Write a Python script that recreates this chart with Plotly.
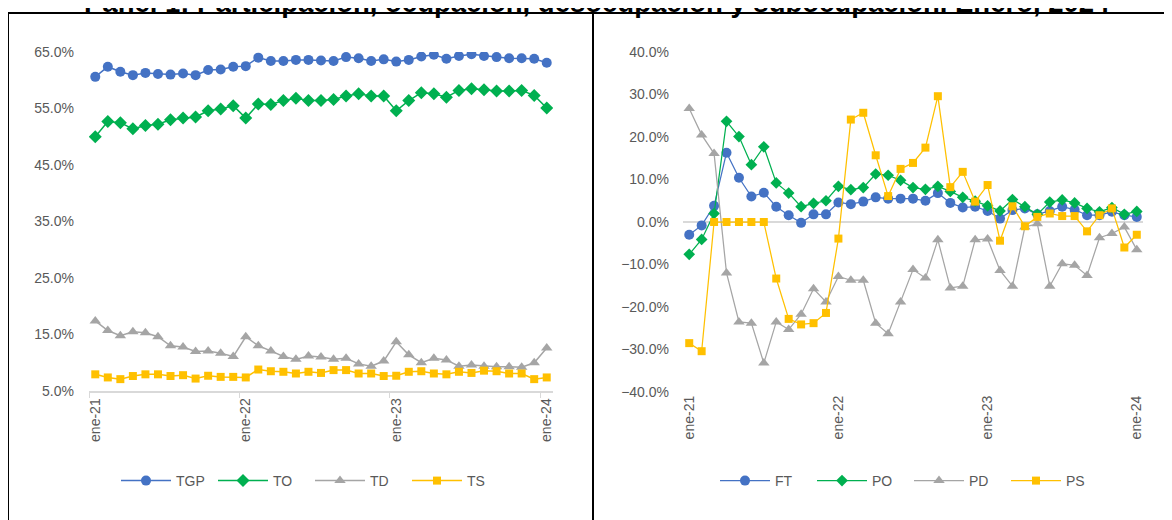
import plotly.graph_objects as go

meses = ["ene", "feb", "mar", "abr", "may", "jun", "jul", "ago", "sep", "oct", "nov", "dic"]
periodos = [f"{m}-{a}" for a in ["21", "22", "23"] for m in meses] + ["ene-24"]

# Panel izquierdo (%)
TGP = [60.6, 62.4, 61.5, 60.9, 61.3, 61.1, 61.0, 61.2, 60.9, 61.8, 61.9, 62.4, 62.5,
       64.0, 63.4, 63.4, 63.6, 63.6, 63.5, 63.4, 64.1, 63.9, 63.4, 63.7, 63.3, 63.6,
       64.2, 64.5, 63.8, 64.3, 64.6, 64.3, 64.1, 63.9, 63.9, 63.8, 63.1]
TO = [50.0, 52.7, 52.5, 51.4, 52.0, 52.2, 53.0, 53.3, 53.5, 54.6, 54.9, 55.5, 53.3,
      55.8, 55.7, 56.4, 56.8, 56.4, 56.4, 56.6, 57.2, 57.6, 57.2, 57.2, 54.6, 56.4,
      57.8, 57.6, 57.0, 58.2, 58.5, 58.3, 58.1, 58.1, 58.2, 57.3, 55.1]
TD = [17.4, 15.7, 14.8, 15.5, 15.3, 14.6, 13.0, 12.8, 12.0, 12.1, 11.7, 11.1, 14.6,
      13.0, 12.1, 11.1, 10.6, 11.2, 11.0, 10.6, 10.8, 9.8, 9.4, 10.3, 13.7, 11.4,
      10.0, 10.8, 10.5, 9.4, 9.6, 9.4, 9.3, 9.3, 9.2, 10.0, 12.6]
TS = [7.95, 7.4, 7.1, 7.65, 7.95, 7.95, 7.65, 7.8, 7.2, 7.7, 7.5, 7.5, 7.4,
      8.8, 8.5, 8.4, 8.1, 8.4, 8.2, 8.7, 8.7, 8.1, 8.1, 7.65, 7.7, 8.4,
      8.5, 8.1, 7.95, 8.4, 8.2, 8.6, 8.5, 8.1, 8.1, 7.1, 7.4]

# Panel derecho (%)
FT = [-3.0, -0.8, 3.8, 16.3, 10.4, 6.0, 6.9, 3.6, 1.6, -0.2, 1.8, 1.8, 4.6,
      4.2, 4.8, 5.8, 5.5, 5.5, 5.5, 5.0, 6.8, 4.5, 3.4, 3.6, 2.6, 0.8,
      2.8, 3.2, 1.8, 2.6, 3.6, 2.9, 1.6, 1.6, 2.4, 1.6, 1.2]
PO = [-7.6, -4.1, 2.0, 23.7, 20.1, 13.5, 17.7, 9.2, 6.8, 3.6, 4.4, 5.0, 8.4,
      7.6, 8.1, 11.3, 11.0, 9.8, 8.1, 7.7, 8.4, 7.2, 5.8, 4.9, 3.8, 2.6,
      5.3, 3.6, 1.8, 4.7, 5.2, 4.5, 3.2, 2.4, 3.4, 1.8, 2.5]
PD = [26.7, 20.5, 16.1, -12.0, -23.5, -23.8, -33.2, -23.5, -25.3, -21.7, -15.7, -18.8, -12.8,
      -13.7, -13.7, -23.8, -26.3, -18.8, -11.2, -13.2, -4.2, -15.5, -15.1, -4.2, -4.0, -11.4,
      -15.1, -1.2, -0.4, -15.1, -9.8, -10.2, -12.6, -3.7, -2.7, -1.2, -6.5]
PS = [-28.5, -30.4, 0.0, 0.0, 0.0, 0.0, 0.0, -13.3, -22.8, -24.1, -23.8, -21.4, -3.9,
      24.1, 25.7, 15.7, 6.1, 12.5, 13.9, 17.5, 29.6, 8.2, 11.8, 4.8, 8.7, -4.4,
      3.7, -1.0, 1.2, 2.0, 1.4, 1.4, -2.2, 1.6, 3.2, -6.0, -3.0]

titulo = "Panel 1: Participación, ocupación, desocupación y subocupación. Enero, 2024"

AZUL, VERDE, GRIS, AMARILLO = "#4472C4", "#00B050", "#A5A5A5", "#FFC000"
FONT = "Liberation Sans"
TXT = "#595959"

fig = go.Figure()

izq = [("TGP", TGP, AZUL, "circle", 10), ("TO", TO, VERDE, "diamond", 10),
       ("TD", TD, GRIS, "triangle-up", 10), ("TS", TS, AMARILLO, "square", 8)]
der = [("FT", FT, AZUL, "circle", 10), ("PO", PO, VERDE, "diamond", 9),
       ("PD", PD, GRIS, "triangle-up", 10), ("PS", PS, AMARILLO, "square", 8)]

for nombre, vals, col, sym, sz in izq:
    fig.add_trace(go.Scatter(x=periodos, y=vals, name=nombre, mode="lines+markers",
                             line=dict(color=col, width=1.5),
                             marker=dict(symbol=sym, size=sz, color=col),
                             xaxis="x", yaxis="y", legend="legend"))
for nombre, vals, col, sym, sz in der:
    fig.add_trace(go.Scatter(x=periodos, y=vals, name=nombre, mode="lines+markers",
                             line=dict(color=col, width=1.25),
                             marker=dict(symbol=sym, size=sz, color=col),
                             xaxis="x2", yaxis="y2", legend="legend2"))

W, H = 1172, 520
OFF = 8  # page body margin
def px_x(p): return (p - OFF) / W
def px_y(p): return 1 - (p - OFF) / H

tickfont = dict(family=FONT, size=14, color=TXT)

fig.update_layout(
    width=W, height=H,
    margin=dict(l=0, r=0, t=0, b=0, autoexpand=False),
    paper_bgcolor="white", plot_bgcolor="white",
    font=dict(family=FONT, color=TXT),
    xaxis=dict(domain=[px_x(89), px_x(553)], type="category", dtick=12, tick0=0,
               tickson="boundaries", ticks="outside", ticklen=5, tickcolor="#D9D9D9",
               tickwidth=1, showline=True, linecolor="#D9D9D9", linewidth=1.5,
               showgrid=False, tickangle=-90, tickfont=tickfont, automargin=False,
               range=[-0.5, 36.5], anchor="y", fixedrange=True),
    yaxis=dict(domain=[px_y(391), px_y(52)], range=[5, 65], dtick=10, tick0=5,
               tickformat=".1f", ticksuffix="%", showgrid=False, zeroline=False,
               showline=False, tickfont=tickfont, ticks="", ticklabelstandoff=14,
               automargin=False, anchor="x"),
    xaxis2=dict(domain=[px_x(683), px_x(1143)], type="category", dtick=12, tick0=0,
                ticks="", showline=False, showgrid=False, tickangle=-90,
                tickfont=tickfont, range=[-0.5, 36.5], anchor="y2", automargin=False),
    yaxis2=dict(domain=[px_y(392), px_y(52)], range=[-40, 40], dtick=10,
                tickformat=".1f", ticksuffix="%", showgrid=False, zeroline=True,
                zerolinecolor="#D9D9D9", zerolinewidth=1.5, showline=False,
                tickfont=tickfont, ticks="", ticklabelstandoff=13, anchor="x2",
                automargin=False),
    legend=dict(orientation="h", x=px_x(310), xanchor="center", y=px_y(481),
                yanchor="middle", font=dict(family=FONT, size=14, color=TXT),
                itemwidth=50, entrywidth=32, bgcolor="rgba(0,0,0,0)"),
    legend2=dict(orientation="h", x=px_x(909), xanchor="center", y=px_y(481),
                 yanchor="middle", font=dict(family=FONT, size=14, color=TXT),
                 itemwidth=50, entrywidth=32, bgcolor="rgba(0,0,0,0)"),
    showlegend=True,
)

# Marcos de los paneles
fig.add_shape(type="rect", xref="paper", yref="paper",
              x0=px_x(8), x1=px_x(593), y0=px_y(540), y1=px_y(13),
              line=dict(color="black", width=2), fillcolor="rgba(0,0,0,0)")
fig.add_shape(type="rect", xref="paper", yref="paper",
              x0=px_x(593), x1=px_x(1190), y0=px_y(540), y1=px_y(13),
              line=dict(color="black", width=2), fillcolor="rgba(0,0,0,0)")

fig.add_annotation(text=f"<b>{titulo}</b>", xref="paper", yref="paper",
                   x=px_x(597), y=px_y(20), xanchor="center", yanchor="bottom",
                   showarrow=False, font=dict(family=FONT, size=27.5, color="black"))

fig.write_html("out.html")
